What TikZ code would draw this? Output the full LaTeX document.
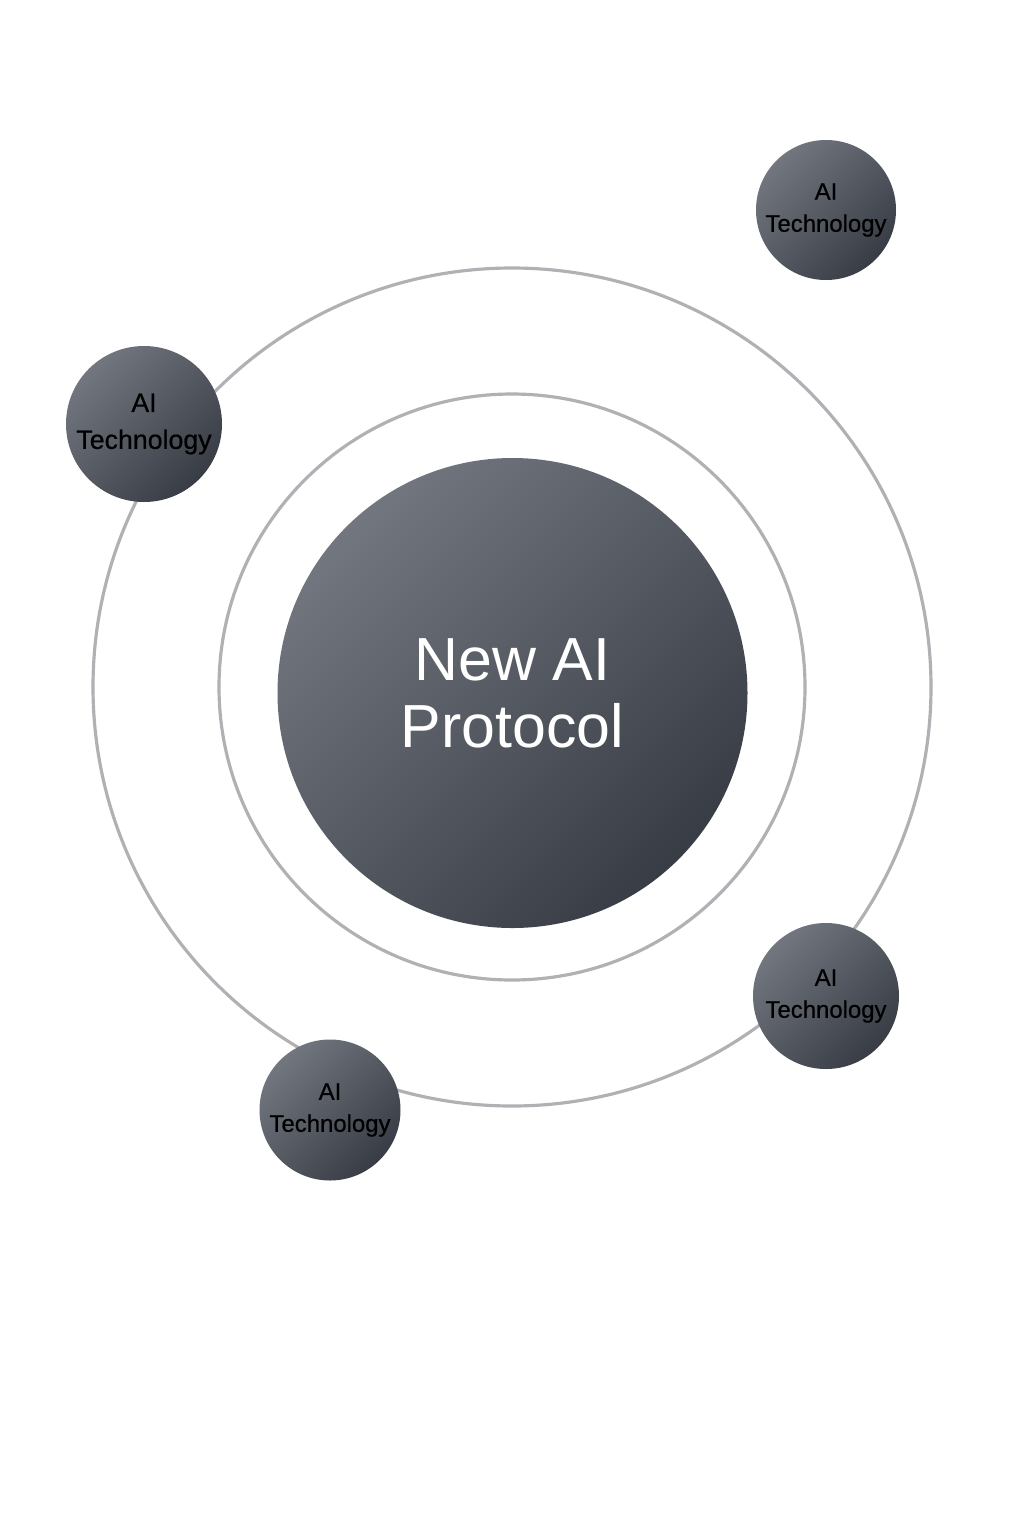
\documentclass[tikz,border=0pt]{standalone}
\usepackage{fontspec}
\setmainfont{Liberation Sans}
\newfontfamily\medsans[FakeBold=0.6]{Liberation Sans}
\definecolor{orbit}{HTML}{B0B0B5}
\definecolor{ballA}{HTML}{71767F}
\definecolor{ballB}{HTML}{383D45}
\tikzset{
  ball/.style={circle, inner sep=0pt, top color=ballA, bottom color=ballB, shading angle=45, align=center},
  orbitline/.style={draw=orbit, line width=0.9pt},
  smalltxt/.style={font=\medsans\fontsize{6.8pt}{9.1pt}\selectfont, text=black},
  bigtxt/.style={font=\medsans\fontsize{7.6pt}{10.5pt}\selectfont, text=black},
  centertxt/.style={font=\fontsize{17.3pt}{19pt}\selectfont, text=white}
}
\begin{document}
\begin{tikzpicture}[x=0.01cm, y=0.01cm]
\useasboundingbox[fill=white] (0,0) rectangle (1024,-1536);
\coordinate (c) at (512,-687);
\draw[orbitline] (c) circle[radius=419];
\draw[orbitline] (c) circle[radius=293];
\node[ball, minimum size=0.01cm*470, centertxt] (core) at (512.5,-693) {New AI\\Protocol};
\node[ball, minimum size=0.01cm*140, smalltxt] (t1) at (826,-210) {AI\\Technology};
\node[ball, minimum size=0.01cm*156, bigtxt] (t2) at (144,-424) {AI\\Technology};
\node[ball, minimum size=0.01cm*146, smalltxt] (t3) at (826,-996) {AI\\Technology};
\node[ball, minimum size=0.01cm*141, smalltxt] (t4) at (330,-1110) {AI\\Technology};
\end{tikzpicture}
\end{document}
